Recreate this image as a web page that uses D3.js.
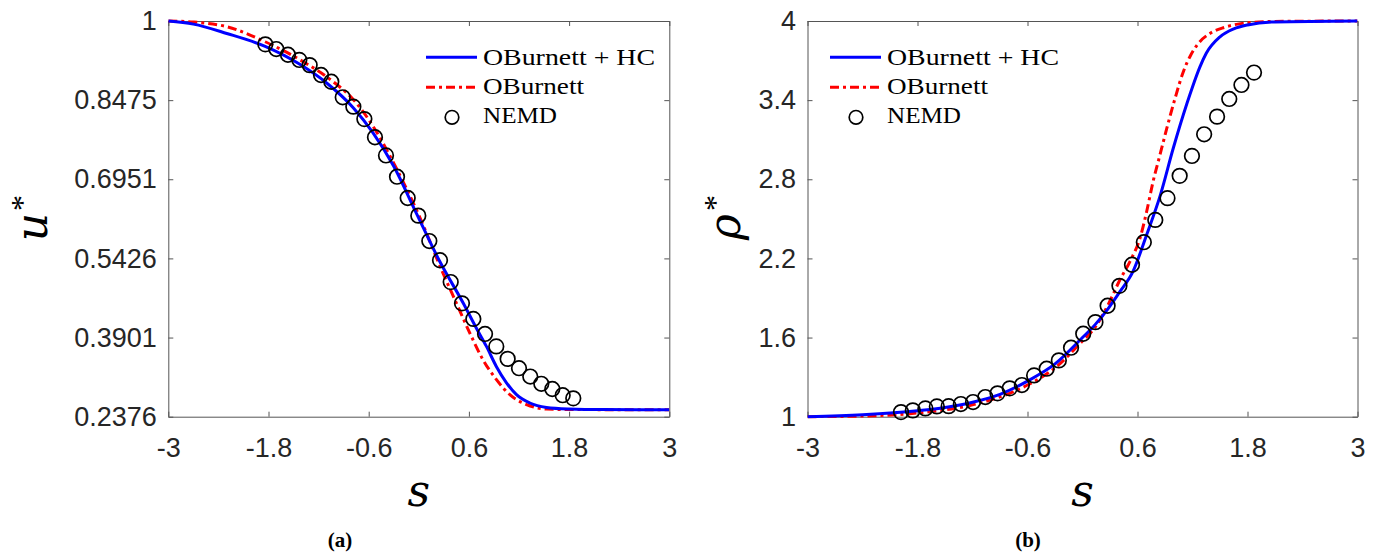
<!DOCTYPE html>
<html>
<head>
<meta charset="utf-8">
<script src="https://cdn.jsdelivr.net/npm/d3@7"></script>
<style>
  html, body { margin: 0; padding: 0; background: #ffffff; }
  svg { display: block; }
</style>
</head>
<body>
<svg id="fig" width="1381" height="553"></svg>
<script>
// ---- shared axis ticks ----
const sTicks = [-3, -1.8, -0.6, 0.6, 1.8, 3];
const sTickLabels = ["-3", "-1.8", "-0.6", "0.6", "1.8", "3"];
const uTicks = [0.2376, 0.3901, 0.5426, 0.6951, 0.8475, 1];
const uTickLabels = ["0.2376", "0.3901", "0.5426", "0.6951", "0.8475", "1"];
const rhoTicks = [1, 1.6, 2.2, 2.8, 3.4, 4];
const rhoTickLabels = ["1", "1.6", "2.2", "2.8", "3.4", "4"];

// ---- (a) velocity profile ----
const uHC_s = [-3, -2.7, -2.3, -1.84, -1.42, -1.1, -0.78, -0.55, -0.3, -0.03, 0.25, 0.53, 0.69, 0.81, 0.93, 1.05, 1.17, 1.33, 1.53, 1.8, 2.2, 3];
const uHC   = [1.0, 0.994, 0.976, 0.951, 0.916, 0.880, 0.832, 0.785, 0.720, 0.630, 0.537, 0.457, 0.408, 0.373, 0.334, 0.303, 0.280, 0.264, 0.2555, 0.2525, 0.2513, 0.251];
const uOB_s = [-3, -2.7, -2.3, -1.84, -1.42, -1.05, -0.78, -0.52, -0.3, 0, 0.29, 0.45, 0.61, 0.77, 0.93, 1.09, 1.29, 1.53, 1.8, 3];
const uOB   = [1.0, 0.998, 0.989, 0.960, 0.925, 0.886, 0.848, 0.790, 0.726, 0.626, 0.514, 0.4565, 0.399, 0.347, 0.309, 0.280, 0.261, 0.2524, 0.2514, 0.251];
const uMD_s = [-1.838, -1.707, -1.567, -1.431, -1.307, -1.171, -1.048, -0.911, -0.784, -0.652, -0.525, -0.393, -0.261, -0.133, -0.006, 0.126, 0.254, 0.382, 0.517, 0.653, 0.793, 0.928, 1.064, 1.200, 1.335, 1.467, 1.599, 1.723, 1.850];
const uMD   = [0.955, 0.946, 0.935, 0.925, 0.915, 0.896, 0.883, 0.853, 0.835, 0.811, 0.776, 0.741, 0.700, 0.659, 0.625, 0.576, 0.539, 0.497, 0.456, 0.426, 0.397, 0.373, 0.349, 0.331, 0.315, 0.301, 0.291, 0.279, 0.273];

// ---- (b) density profile ----
const rHC_s = [-3, -2.4, -1.8, -1.5, -1.2, -0.9, -0.6, -0.3, 0, 0.14, 0.28, 0.41, 0.55, 0.7, 0.85, 0.99, 1.14, 1.2, 1.28, 1.35, 1.5, 1.65, 1.8, 2.1, 3];
const rHC   = [1.0, 1.015, 1.045, 1.07, 1.11, 1.17, 1.27, 1.40, 1.60, 1.70, 1.82, 1.95, 2.10, 2.38, 2.682, 3.035, 3.376, 3.50, 3.65, 3.755, 3.88, 3.94, 3.97, 3.993, 4.0];
const rOB_s = [-3, -2.4, -1.8, -1.2, -0.9, -0.6, -0.3, 0, 0.15, 0.28, 0.41, 0.52, 0.63, 0.7, 0.77, 0.845, 0.92, 1.01, 1.1, 1.18, 1.25, 1.4, 1.55, 1.8, 2.1, 3];
const rOB   = [1.0, 1.005, 1.028, 1.09, 1.15, 1.24, 1.37, 1.575, 1.69, 1.85, 2.04, 2.18, 2.36, 2.556, 2.783, 2.985, 3.187, 3.414, 3.616, 3.74, 3.818, 3.91, 3.952, 3.987, 3.997, 4.0];
const rMD_s = [-1.980, -1.851, -1.714, -1.589, -1.460, -1.327, -1.194, -1.060, -0.927, -0.794, -0.661, -0.528, -0.391, -0.258, -0.125, 0.008, 0.141, 0.274, 0.403, 0.540, 0.669, 0.794, 0.927, 1.060, 1.194, 1.327, 1.468, 1.601, 1.734, 1.871];
const rMD   = [1.035, 1.048, 1.063, 1.078, 1.080, 1.096, 1.111, 1.149, 1.177, 1.215, 1.240, 1.313, 1.364, 1.427, 1.523, 1.629, 1.717, 1.841, 1.992, 2.152, 2.323, 2.492, 2.657, 2.826, 2.977, 3.141, 3.275, 3.409, 3.515, 3.609];

const legendNames = ["OBurnett + HC", "OBurnett", "NEMD"];

const svg = d3.select("#fig");
svg.append("rect").attr("width", 1381).attr("height", 553).attr("fill", "#ffffff");

const SANS = "'Liberation Sans', Arial, Helvetica, sans-serif";
const SERIF = "'Liberation Serif', 'Times New Roman', serif";
const MATH = "'DejaVu Serif', 'Liberation Serif', serif";
const AXIS_COLOR = "#262626";
const FRAME_COLOR = "#555555";

function zip(xs, ys) { return xs.map((x, i) => [x, ys[i]]); }

function drawPanel(cfg) {
  const x = d3.scaleLinear().domain([-3, 3]).range([cfg.left, cfg.right]);
  const y = d3.scaleLinear().domain(cfg.yDomain).range([cfg.bottom, cfg.top]);
  const g = svg.append("g");

  // axes (ticks pointing inward, boxed)
  const tick = 5;
  const styleAxis = sel => {
    sel.select(".domain").attr("stroke", FRAME_COLOR).attr("stroke-width", 1);
    sel.selectAll(".tick line").attr("stroke", FRAME_COLOR).attr("stroke-width", 1);
    sel.selectAll(".tick text").attr("fill", AXIS_COLOR)
       .attr("font-family", SANS).attr("font-size", 27);
  };
  g.append("g").attr("transform", `translate(0,${cfg.bottom})`)
    .call(d3.axisBottom(x).tickValues(sTicks).tickSizeInner(-tick).tickSizeOuter(0)
      .tickPadding(21).tickFormat((d, i) => sTickLabels[i]))
    .call(styleAxis);
  g.append("g").attr("transform", `translate(0,${cfg.top})`)
    .call(d3.axisTop(x).tickValues(sTicks).tickSizeInner(-tick).tickSizeOuter(0).tickFormat(""))
    .call(styleAxis);
  g.append("g").attr("transform", `translate(${cfg.left},0)`)
    .call(d3.axisLeft(y).tickValues(cfg.yTicks).tickSizeInner(-tick).tickSizeOuter(0)
      .tickPadding(11.5).tickFormat((d, i) => cfg.yTickLabels[i]))
    .call(styleAxis);
  g.append("g").attr("transform", `translate(${cfg.right},0)`)
    .call(d3.axisRight(y).tickValues(cfg.yTicks).tickSizeInner(-tick).tickSizeOuter(0).tickFormat(""))
    .call(styleAxis);

  // curves
  const line = d3.line().x(d => x(d[0])).y(d => y(d[1])).curve(d3.curveMonotoneX);
  const clip = "clip-" + cfg.id;
  svg.append("clipPath").attr("id", clip).append("rect")
    .attr("x", cfg.left).attr("y", cfg.top - 2)
    .attr("width", cfg.right - cfg.left).attr("height", cfg.bottom - cfg.top + 4);
  const plot = g.append("g").attr("clip-path", `url(#${clip})`);
  plot.append("path").datum(zip(cfg.obS, cfg.ob)).attr("d", line)
    .attr("fill", "none").attr("stroke", "#ff0000").attr("stroke-width", 3)
    .attr("stroke-dasharray", "9,4,3,4");
  plot.append("path").datum(zip(cfg.hcS, cfg.hc)).attr("d", line)
    .attr("fill", "none").attr("stroke", "#0000ff").attr("stroke-width", 3);
  g.append("g").selectAll("circle").data(zip(cfg.mdS, cfg.md)).join("circle")
    .attr("cx", d => x(d[0])).attr("cy", d => y(d[1])).attr("r", 7.3)
    .attr("fill", "none").attr("stroke", "#000000").attr("stroke-width", 1.7);

  // legend
  const lg = g.append("g");
  const lx = cfg.legendX;
  lg.append("line").attr("x1", lx).attr("x2", lx + 51).attr("y1", 57.3).attr("y2", 57.3)
    .attr("stroke", "#0000ff").attr("stroke-width", 3);
  lg.append("line").attr("x1", lx).attr("x2", lx + 51).attr("y1", 87.3).attr("y2", 87.3)
    .attr("stroke", "#ff0000").attr("stroke-width", 3).attr("stroke-dasharray", "9,4,3,4");
  lg.append("circle").attr("cx", lx + 26).attr("cy", 117.3).attr("r", 6.8)
    .attr("fill", "none").attr("stroke", "#000000").attr("stroke-width", 1.7);
  const widths = [172, 101, 74];
  const baselines = [64.5, 93.5, 123];
  legendNames.forEach((name, i) => {
    lg.append("text").attr("x", lx + 57).attr("y", baselines[i])
      .attr("font-family", SERIF).attr("font-size", 24).attr("fill", "#000000")
      .attr("textLength", widths[i]).attr("lengthAdjust", "spacingAndGlyphs")
      .text(name);
  });

  // x label
  g.append("text")
    .attr("x", (cfg.left + cfg.right) / 2).attr("y", 506)
    .attr("text-anchor", "middle").attr("font-family", MATH).attr("font-style", "italic")
    .attr("font-size", 44).attr("fill", "#000000").text("s");

  // y label: symbol plus raised asterisk
  const yl = g.append("g").attr("transform", `translate(${cfg.yLabelX},219) rotate(-90)`);
  yl.append("text").attr("x", -8).attr("y", 0)
    .attr("text-anchor", "middle").attr("font-family", MATH).attr("font-style", "italic")
    .attr("font-size", 44).attr("fill", "#000000").text(cfg.yLabel);
  yl.append("text").attr("x", cfg.starOffset).attr("y", -14)
    .attr("text-anchor", "middle").attr("font-family", SERIF).attr("font-size", 32)
    .attr("fill", "#000000").text("*");

  // caption
  svg.append("text").attr("x", cfg.captionX).attr("y", 547)
    .attr("text-anchor", "middle").attr("font-family", SERIF).attr("font-weight", "bold")
    .attr("font-size", 21).attr("fill", "#000000").text(cfg.caption);
}

drawPanel({
  id: "a", left: 168.3, right: 669.3, top: 21, bottom: 416.7,
  yDomain: [0.2376, 1], yTicks: uTicks, yTickLabels: uTickLabels,
  hcS: uHC_s, hc: uHC, obS: uOB_s, ob: uOB, mdS: uMD_s, md: uMD,
  legendX: 426, yLabel: "u", yLabelX: 47, starOffset: 16, caption: "(a)", captionX: 340
});

drawPanel({
  id: "b", left: 807.5, right: 1357.5, top: 21, bottom: 416.7,
  yDomain: [1, 4], yTicks: rhoTicks, yTickLabels: rhoTickLabels,
  hcS: rHC_s, hc: rHC, obS: rOB_s, ob: rOB, mdS: rMD_s, md: rMD,
  legendX: 830, yLabel: "ρ", yLabelX: 740, starOffset: 16, caption: "(b)", captionX: 1028
});
</script>
</body>
</html>
